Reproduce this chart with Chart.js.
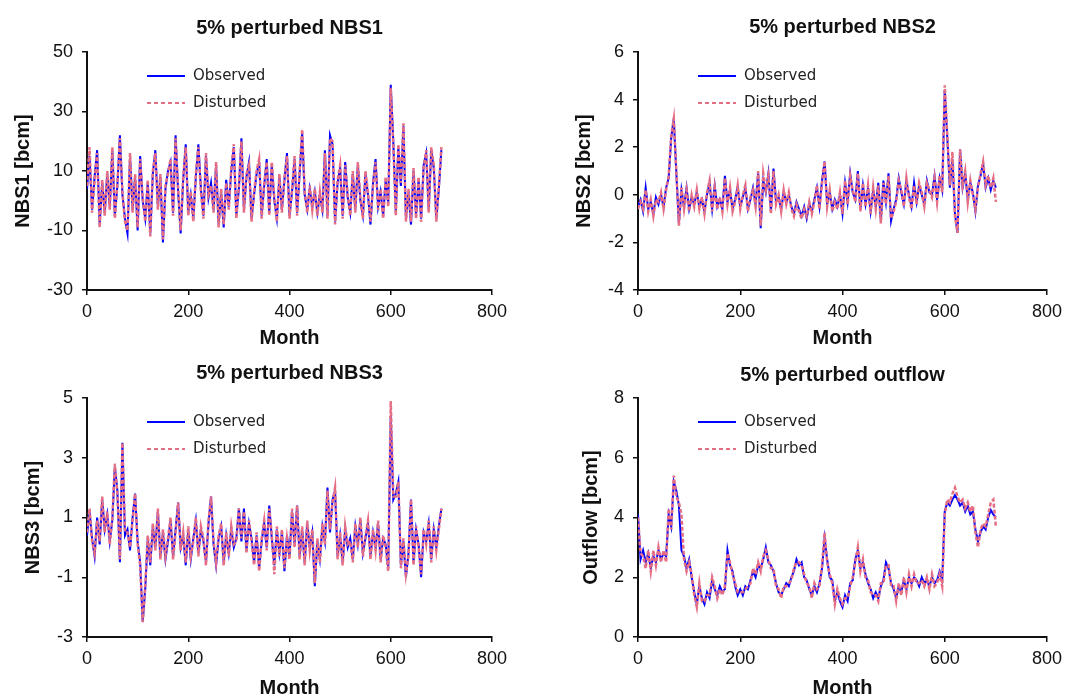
<!DOCTYPE html>
<html>
<head>
<meta charset="utf-8">
<title>5% perturbed series</title>
<script src="https://cdn.jsdelivr.net/npm/chart.js@4.4.0/dist/chart.umd.min.js"></script>
<style>
  body { margin: 0; background: #fff; }
  #wrap { position: relative; width: 1075px; height: 700px; }
  canvas { position: absolute; }
</style>
</head>
<body>
<div id="wrap">
  <canvas id="nbs1" width="540" height="350" style="left:0;top:0"></canvas>
  <canvas id="nbs2" width="535" height="350" style="left:540px;top:0"></canvas>
  <canvas id="nbs3" width="540" height="350" style="left:0;top:350px"></canvas>
  <canvas id="outflow" width="535" height="350" style="left:540px;top:350px"></canvas>
</div>
<script>
'use strict';

// ************ Data (every 5th month) ************

let months = [
  0, 5, 10, 15, 20, 25, 30, 35, 40, 45,
  50, 55, 60, 65, 70, 75, 80, 85, 90, 95,
  100, 105, 110, 115, 120, 125, 130, 135, 140, 145,
  150, 155, 160, 165, 170, 175, 180, 185, 190, 195,
  200, 205, 210, 215, 220, 225, 230, 235, 240, 245,
  250, 255, 260, 265, 270, 275, 280, 285, 290, 295,
  300, 305, 310, 315, 320, 325, 330, 335, 340, 345,
  350, 355, 360, 365, 370, 375, 380, 385, 390, 395,
  400, 405, 410, 415, 420, 425, 430, 435, 440, 445,
  450, 455, 460, 465, 470, 475, 480, 485, 490, 495,
  500, 505, 510, 515, 520, 525, 530, 535, 540, 545,
  550, 555, 560, 565, 570, 575, 580, 585, 590, 595,
  600, 605, 610, 615, 620, 625, 630, 635, 640, 645,
  650, 655, 660, 665, 670, 675, 680, 685, 690, 695,
  700
];

let monthTicks = [0, 200, 400, 600, 800];

let nbs1Observed = [
  4, 15, -3, 8, 17, -8, 6, -4, 9, -2,
  17, -5, 5, 22, 2, -6, -11, 15, -3, 8,
  -10, 15, 0, -6, 6, -11, 9, 17, -2, 8,
  -14, 4, 10, 13, -4, 22, 3, -11, 7, 19,
  -4, 2, -6, 8, 19, 4, -5, 15, 1, 6,
  -3, 12, -8, 3, -9, 7, -2, 10, 18, -5,
  4, 21, -3, 8, 13, -6, 2, 9, 13, -5,
  5, 14, -4, 12, 0, -6, 8, -3, 7, 16,
  -5, 3, 14, -4, 9, 23, 2, -3, 4, -2,
  3, -4, 2, -3, 17, -5, 22, 19, -7, 6,
  11, -5, 13, 1, -4, 9, -3, 12, 0, -5,
  9, 2, -8, 6, 14, -2, 3, -5, 7, -1,
  39, 20, -4, 18, 5, 25, -6, 3, -8, 10,
  -5, 7, -6, 12, 16, -3, 17, 11, -6, 4,
  17
];
let nbs1Disturbed = [
  5, 18, -4, 7, 16, -9, 7, -5, 10, -3,
  18, -6, 6, 21, 3, -7, -10, 16, -4, 9,
  -9, 14, 1, -7, 7, -12, 10, 16, -3, 9,
  -13, 5, 9, 14, -5, 21, 4, -10, 8, 18,
  -5, 3, -7, 9, 18, 3, -6, 16, 2, 5,
  -4, 13, -9, 4, -8, 6, -3, 11, 19, -6,
  5, 20, -4, 9, 12, -7, 3, 10, 14, -6,
  6, 13, -5, 13, 1, -7, 9, -4, 8, 15,
  -6, 4, 15, -5, 10, 24, 3, -4, 5, -3,
  4, -5, 3, -4, 16, -6, 21, 20, -8, 7,
  12, -6, 12, 2, -5, 10, -4, 13, 1, -6,
  10, 3, -7, 5, 13, -3, 4, -6, 8, -2,
  38, 19, -5, 19, 6, 26, -7, 4, -7, 11,
  -6, 8, -7, 11, 17, -4, 18, 12, -7, 5,
  18
];
let nbs1Ticks = [-30, -10, 10, 30, 50];

let nbs2Observed = [
  -0.5, -0.2, -0.7, 0.3, -0.6, -0.3, -0.8, -0.1, -0.4, 0.0,
  -0.5, 0.3, 0.7, 2.4, 3.2, 0.9, -1.2, 0.2, -0.5, 0.3,
  -0.6, -0.1, -0.4, 0.1, -0.5, -0.2, -0.7, 0.0, 0.5, -0.6,
  0.4, -0.5, -0.2, -0.6, 0.8, -0.3, 0.2, -0.6, -0.2, 0.3,
  -0.5, -0.1, 0.3, -0.6, -0.2, 0.3, -0.4, 0.9, -1.4, 0.6,
  0.1, 0.9, -0.7, 1.1, -0.3, -0.1, -0.6, 0.1, -0.3, 0.0,
  -0.5, -0.8, -0.3, -0.6, -0.9, -0.5, -1.0, -0.4, -0.7, -0.2,
  0.3, -0.5, 0.6, 1.4, -0.4, 0.1, -0.6, -0.2, -0.5, 0.0,
  -0.8, 0.5, -0.3, 0.9, 0.1, -0.2, 1.0, -0.6, 0.4, -0.4,
  0.3, -0.7, 0.2, -0.5, 0.5, -1.1, 0.6, -0.3, 0.9, -1.1,
  -0.6, -0.2, 0.7, 0.1, -0.4, 0.6, 0.0, -0.5, 0.5, -0.3,
  0.4, 0.0, -0.4, 0.6, 0.1, 0.0, 0.8, -0.2, 0.7, 0.2,
  4.4, 2.4, 0.3, 1.5, -0.8, -1.6, 1.9, 0.3, 0.9, -0.2,
  0.5, 0.1, -0.7, 0.4, 0.8, 1.3, 0.3, 0.7, 0.2, 0.6,
  0.3
];
let nbs2Disturbed = [
  -0.6, -0.3, -0.6, 0.2, -0.7, -0.2, -0.9, -0.2, -0.3, 0.1,
  -0.6, 0.2, 0.8, 2.5, 3.2, 1.0, -1.3, 0.3, -0.6, 0.2,
  -0.7, 0.0, -0.5, 0.2, -0.6, -0.1, -0.8, 0.1, 0.6, -0.7,
  0.3, -0.6, -0.1, -0.7, 0.7, -0.4, 0.3, -0.7, -0.3, 0.4,
  -0.6, 0.0, 0.4, -0.7, -0.1, 0.2, -0.5, 1.0, -1.3, 0.9,
  0.2, 0.8, -0.8, 1.0, -0.4, 0.0, -0.7, 0.2, -0.4, 0.1,
  -0.6, -0.9, -0.4, -0.7, -1.0, -0.6, -0.9, -0.3, -0.8, -0.3,
  0.4, -0.6, 0.5, 1.4, -0.5, 0.2, -0.7, -0.3, -0.6, 0.1,
  -0.8, 0.6, -0.4, 0.8, 0.2, -0.3, 0.9, -0.7, 0.5, -0.5,
  0.4, -0.8, 0.3, -0.6, 0.4, -1.2, 0.5, -0.4, 0.8, -1.0,
  -0.7, -0.3, 0.6, 0.2, -0.5, 0.7, -0.1, -0.6, 0.4, -0.4,
  0.5, 0.1, -0.5, 0.5, 0.2, -0.1, 0.7, -0.3, 0.8, 0.1,
  4.6, 2.5, 0.4, 1.8, -0.9, -1.6, 1.9, 0.4, 1.0, -0.3,
  0.6, 0.0, -0.6, 0.3, 0.9, 1.4, 0.4, 0.8, 0.3, 0.7,
  -0.3
];
let nbs2Ticks = [-4, -2, 0, 2, 4, 6];

let nbs3Observed = [
  0.4, 1.2, 0.3, -0.3, 1.0, 0.1, 1.6, 0.6, 1.1, 0.2,
  0.9, 2.7, 1.9, -0.5, 3.5, 0.4, 0.6, -0.1, 1.0, 1.8,
  0.2, -0.5, -2.5, -1.4, 0.3, -0.6, 0.7, 0.0, 1.2, -0.3,
  0.5, -0.4, 0.2, 0.9, -0.3, 0.6, 1.5, 0.0, 0.4, -0.6,
  0.6, -0.4, 0.3, 0.9, -0.2, 0.6, 0.2, -0.5, 0.8, 1.7,
  0.1, -0.6, 0.3, 0.7, -0.5, 0.4, -0.2, 0.6, 0.0, 0.3,
  1.3, 0.2, 1.3, -0.1, 0.8, 0.3, -0.5, 0.4, -0.7, 0.2,
  0.8, 0.0, 1.4, 0.3, -0.6, 0.6, -0.2, 0.5, -0.8, 0.4,
  -0.3, 1.2, 0.1, 1.4, -0.3, 0.6, -0.5, 0.8, 0.0, 0.5,
  -1.3, 0.2, -0.4, 0.7, 0.2, 2.0, 0.5, 1.6, 1.9, -0.3,
  0.4, -0.5, 0.6, 0.0, 0.3, -0.4, 0.7, 0.1, 0.9, -0.2,
  0.3, 0.8, -0.3, 0.5, 0.0, 0.8, -0.4, 0.3, 0.1, -0.7,
  4.4, 1.6, 1.8, 2.2, -0.6, 0.2, -1.0, -0.2, 1.6, -0.5,
  0.6, 0.1, -1.0, 0.5, 0.2, 0.8, -0.4, 0.6, 0.0, 0.7,
  1.3
];
let nbs3Disturbed = [
  0.5, 1.3, 0.2, -0.2, 0.9, 0.2, 1.7, 0.5, 1.2, 0.1,
  1.0, 2.8, 1.8, -0.4, 3.5, 0.5, 0.5, 0.0, 0.9, 1.8,
  0.1, -0.6, -2.5, -1.3, 0.4, -0.5, 0.8, -0.1, 1.3, -0.4,
  0.6, -0.3, 0.3, 1.0, -0.4, 0.5, 1.5, -0.1, 0.5, -0.5,
  0.7, -0.3, 0.2, 1.0, -0.3, 0.7, 0.3, -0.6, 0.9, 1.7,
  0.2, -0.5, 0.4, 0.8, -0.6, 0.5, -0.3, 0.7, 0.1, 0.2,
  1.3, 0.3, 1.2, -0.2, 0.9, 0.2, -0.6, 0.5, -0.8, 0.3,
  0.9, -0.1, 1.3, 0.4, -0.9, 0.7, -0.3, 0.6, -0.7, 0.3,
  -0.4, 1.3, 0.0, 1.4, -0.4, 0.7, -0.6, 0.9, -0.1, 0.6,
  -1.2, 0.3, -0.5, 0.8, 0.1, 1.9, 0.6, 1.5, 2.0, -0.4,
  0.5, -0.6, 0.7, 0.1, 0.2, -0.5, 0.8, 0.0, 1.0, -0.3,
  0.4, 0.9, -0.4, 0.6, -0.1, 0.9, -0.5, 0.4, 0.0, -0.8,
  4.9, 1.7, 1.7, 2.2, -0.7, 0.3, -0.9, -0.3, 1.6, -0.6,
  0.7, 0.0, -0.9, 0.6, 0.1, 0.9, -0.5, 0.7, -0.1, 0.6,
  1.3
];
let nbs3Ticks = [-3, -1, 1, 3, 5];

let outflowObserved = [
  4.1, 2.6, 2.9, 2.5, 2.8, 2.3, 2.7, 2.5, 2.9, 2.6,
  2.8, 2.7, 4.1, 3.7, 5.2, 4.9, 4.4, 2.9, 2.7, 2.3,
  2.6, 2.0, 1.5, 1.1, 1.7, 1.3, 1.1, 1.5, 1.3, 1.9,
  1.6, 1.4, 1.7, 1.5, 1.6, 2.9, 2.4, 2.2, 1.7, 1.4,
  1.6, 1.4, 1.7, 1.6, 1.9, 2.2, 2.0, 2.4, 2.3, 2.6,
  3.0, 2.5, 2.4, 2.2, 1.8, 1.5, 1.4, 1.6, 1.8, 1.7,
  2.0, 2.2, 2.6, 2.4, 2.5, 2.0, 1.9, 1.6, 1.4, 1.7,
  1.5, 1.8, 2.3, 3.3, 2.6, 2.0, 1.9, 1.2, 1.5, 1.2,
  1.0, 1.4, 1.2, 1.8, 1.9, 2.6, 2.9, 2.3, 2.5, 2.1,
  1.8, 1.6, 1.3, 1.5, 1.3, 1.7, 1.9, 2.5, 2.3, 1.8,
  1.6, 1.3, 1.7, 1.5, 1.9, 1.6, 2.0, 1.8, 2.0, 1.9,
  1.7, 2.0, 1.8, 1.9, 1.7, 2.0, 1.8, 1.9, 2.2, 1.9,
  4.2, 4.5, 4.4, 4.6, 4.75, 4.6, 4.4, 4.5, 4.2, 4.4,
  4.1, 4.2, 3.6, 3.2, 3.5, 3.7, 3.6, 4.0, 4.25, 4.1,
  4.0
];
let outflowDisturbed = [
  4.0, 2.8, 2.7, 2.3, 2.9, 2.2, 2.9, 2.4, 3.0, 2.5,
  2.9, 2.5, 4.3, 3.6, 5.4, 4.7, 4.5, 4.1, 2.6, 2.2,
  2.5, 2.1, 1.4, 1.0, 1.8, 1.2, 1.2, 1.4, 1.4, 2.0,
  1.7, 1.3, 1.6, 1.4, 1.7, 2.8, 2.5, 2.1, 1.8, 1.5,
  1.5, 1.5, 1.6, 1.7, 1.8, 2.3, 2.1, 2.5, 2.2, 2.7,
  2.9, 2.6, 2.3, 2.3, 1.7, 1.6, 1.3, 1.7, 1.7, 1.8,
  1.9, 2.3, 2.5, 2.5, 2.4, 2.1, 1.8, 1.7, 1.3, 1.8,
  1.6, 1.7, 2.4, 3.5, 2.5, 2.1, 1.8, 1.1, 1.6, 1.3,
  1.1, 1.3, 1.3, 1.7, 2.0, 2.5, 3.0, 2.2, 2.6, 2.0,
  1.9, 1.5, 1.4, 1.4, 1.2, 1.8, 1.8, 2.4, 2.4, 1.7,
  1.7, 1.2, 1.8, 1.4, 2.0, 1.5, 2.1, 1.7, 2.1, 1.8,
  1.8, 1.9, 1.7, 2.0, 1.6, 2.1, 1.7, 1.8, 2.1, 1.7,
  4.1, 4.6, 4.5, 4.8, 5.0, 4.7, 4.5, 4.6, 4.3, 4.5,
  4.2, 4.4, 3.5, 3.0, 3.6, 3.8, 3.7, 4.1, 4.5, 4.6,
  3.7
];
let outflowTicks = [0, 2, 4, 6, 8];

// ************ Styles ************

let blue = '#0000ff';
let pink = 'rgb(230, 110, 132)';
let axisColor = '#111';
let sansFont = '"Liberation Sans", Arial, sans-serif';

Chart.defaults.font.family = sansFont;
Chart.defaults.color = '#000';

// ************ Helpers ************

function toPoints(values) {
  return months.map((m, i) => ({ x: m, y: values[i] }));
}

function makeChart(canvasId, p) {

  // title and in-plot legend, drawn after the chart
  let panelDecor = {
    id: 'panelDecor',
    afterDraw(chart) {
      let c = chart.ctx;
      let a = chart.chartArea;
      c.save();
      c.fillStyle = '#111';
      c.font = 'bold 20px ' + sansFont;
      c.textAlign = 'center';
      c.textBaseline = 'middle';
      c.fillText(p.title, (a.left + a.right) / 2, p.titleY);

      let lx = a.left + 60;
      let rows = [
        { text: 'Observed', color: blue, dash: [], y: a.top + 24 },
        { text: 'Disturbed', color: pink, dash: [4, 3], y: a.top + 51 }
      ];
      c.font = '15px "DejaVu Sans", sans-serif';
      c.textAlign = 'left';
      rows.forEach(r => {
        c.strokeStyle = r.color;
        c.lineWidth = 2;
        c.setLineDash(r.dash);
        c.beginPath();
        c.moveTo(lx, r.y);
        c.lineTo(lx + 38, r.y);
        c.stroke();
        c.fillStyle = '#222';
        c.fillText(r.text, lx + 46, r.y);
      });
      c.restore();
    }
  };

  new Chart(document.getElementById(canvasId), {
    type: 'line',
    data: {
      datasets: [
        {
          label: 'Observed',
          data: toPoints(p.observed),
          borderColor: blue,
          borderWidth: 2,
          order: 1
        },
        {
          label: 'Disturbed',
          data: toPoints(p.disturbed),
          borderColor: pink,
          borderWidth: 2.5,
          borderDash: [4, 2],
          order: 0
        }
      ]
    },
    options: {
      responsive: false,
      animation: false,
      events: [],
      layout: { padding: { left: p.padLeft, right: p.padRight, top: p.padTop, bottom: 0 } },
      elements: { point: { radius: 0 }, line: { tension: 0 } },
      plugins: { legend: { display: false }, tooltip: { enabled: false } },
      scales: {
        x: {
          type: 'linear',
          min: 0,
          max: 800,
          afterBuildTicks: s => { s.ticks = monthTicks.map(v => ({ value: v })); },
          afterFit: s => { s.height = p.xHeight; },
          ticks: { font: { size: 18 }, padding: 6, maxRotation: 0, color: '#111' },
          grid: { drawOnChartArea: false, tickLength: 5, color: axisColor, lineWidth: 1.5 },
          border: { color: axisColor, width: 2 },
          title: { display: true, text: 'Month', font: { size: 20, weight: 'bold' }, padding: 0, color: '#111' }
        },
        y: {
          min: p.ticks[0],
          max: p.ticks[p.ticks.length - 1],
          afterBuildTicks: s => { s.ticks = p.ticks.map(v => ({ value: v })); },
          afterFit: s => { s.width = p.yWidth; },
          ticks: { font: { size: 18 }, padding: 9, color: '#111' },
          grid: { drawOnChartArea: false, tickLength: 5, color: axisColor, lineWidth: 1.5 },
          border: { color: axisColor, width: 2 },
          title: { display: true, text: p.yTitle, font: { size: 20, weight: 'bold' }, padding: 0, color: '#111' }
        }
      }
    },
    plugins: [panelDecor]
  });
}

// ************ Charts ************

makeChart('nbs1', {
  title: '5% perturbed NBS1', yTitle: 'NBS1 [bcm]', titleY: 28,
  observed: nbs1Observed, disturbed: nbs1Disturbed, ticks: nbs1Ticks,
  padLeft: 11, yWidth: 76, padTop: 52, padRight: 48, xHeight: 60
});

makeChart('nbs2', {
  title: '5% perturbed NBS2', yTitle: 'NBS2 [bcm]', titleY: 27,
  observed: nbs2Observed, disturbed: nbs2Disturbed, ticks: nbs2Ticks,
  padLeft: 32, yWidth: 66, padTop: 52, padRight: 28, xHeight: 60
});

makeChart('nbs3', {
  title: '5% perturbed NBS3', yTitle: 'NBS3 [bcm]', titleY: 23,
  observed: nbs3Observed, disturbed: nbs3Disturbed, ticks: nbs3Ticks,
  padLeft: 21, yWidth: 66, padTop: 48, padRight: 48, xHeight: 63
});

makeChart('outflow', {
  title: '5% perturbed outflow', yTitle: 'Outflow [bcm]', titleY: 25,
  observed: outflowObserved, disturbed: outflowDisturbed, ticks: outflowTicks,
  padLeft: 39, yWidth: 59, padTop: 48, padRight: 28, xHeight: 63
});
</script>
</body>
</html>
